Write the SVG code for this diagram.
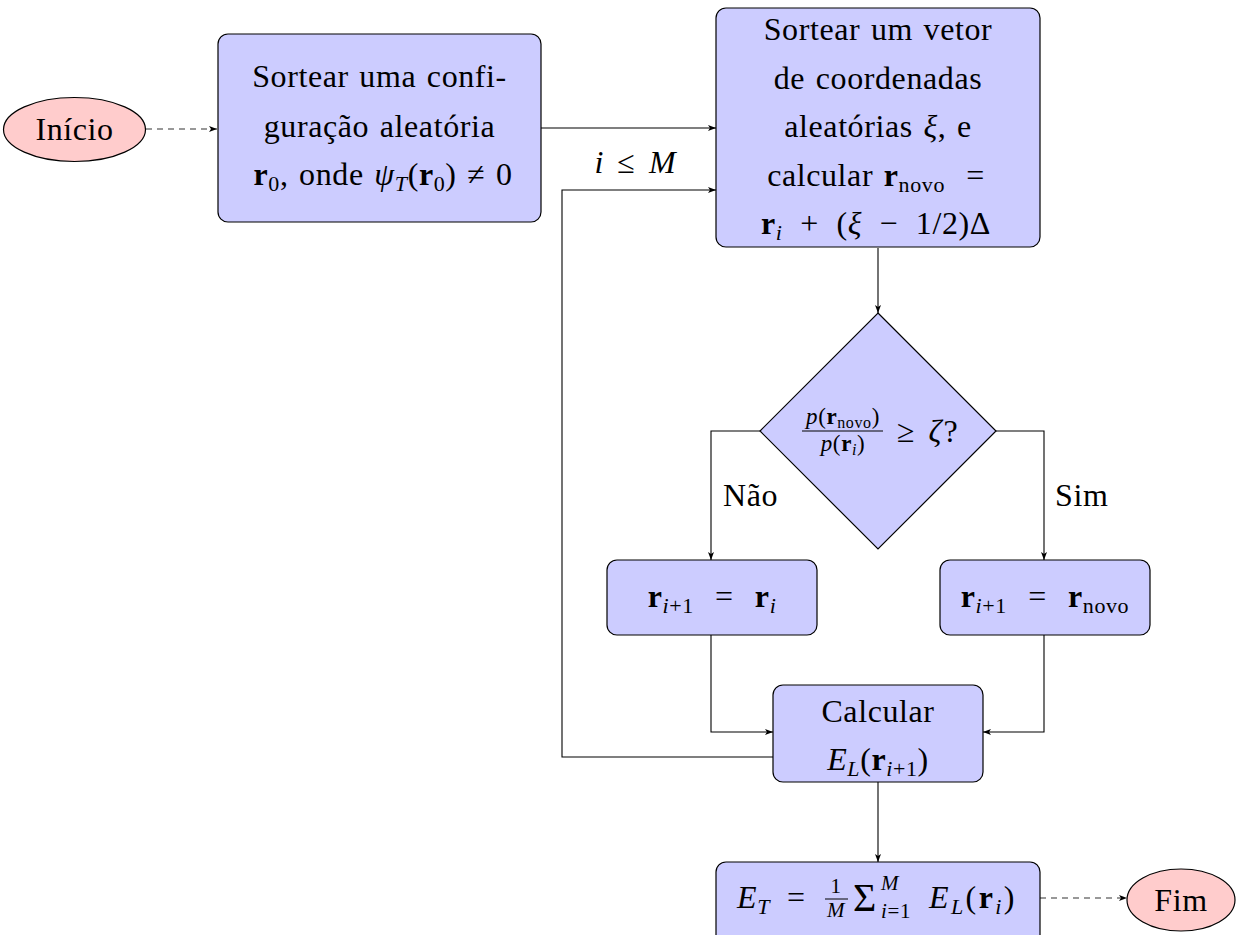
<svg xmlns="http://www.w3.org/2000/svg" width="1236" height="935" viewBox="0 0 1236 935">
  <style>
    .t { font-family: "Liberation Serif", "Times New Roman", serif; font-size: 32px; fill: #000; letter-spacing: 0.6px; word-spacing: 2px; }
    .c { text-anchor: middle; }
    .i { font-style: italic; }
    .b { font-weight: bold; }
    .s { font-size: 22px; }
    .f { font-size: 23px; }
    .fs { font-size: 16px; }
    .sm { font-size: 21px; }
    .box { fill: #ccccff; stroke: #000; stroke-width: 1.2; }
    .term { fill: #ffcccc; stroke: #000; stroke-width: 1.2; }
    .line { fill: none; stroke: #000; stroke-width: 1.1; marker-end: url(#ah); }
    .dash { stroke-dasharray: 6 5; stroke: #333; }
  </style>
  <defs>
    <marker id="ah" viewBox="0 0 8 6" refX="8" refY="3" markerWidth="8" markerHeight="6" orient="auto" markerUnits="userSpaceOnUse">
      <path d="M0,0 L8,3 L0,6 L2,3 z" fill="#000"/>
    </marker>
  </defs>

  <!-- connectors -->
  <g id="connectors">
    <path class="line dash" d="M146,129 H217"/>
    <path class="line" d="M541,128 H716"/>
    <path class="line" d="M773,757 H562 V190 H716"/>
    <path class="line" d="M878,248 V313"/>
    <path class="line" d="M760,431 H711 V560"/>
    <path class="line" d="M996,431 H1044 V560"/>
    <path class="line" d="M711,635 V732 H773"/>
    <path class="line" d="M1044,635 V732 H983"/>
    <path class="line" d="M878,782 V862"/>
    <path class="line dash" d="M1040,898 H1127"/>
    <text class="t c" x="636" y="173" style="letter-spacing:2px"><tspan class="i">i</tspan>&#160;≤&#160;<tspan class="i">M</tspan></text>
    <text class="t" x="723" y="506">Não</text>
    <text class="t" x="1055" y="506">Sim</text>
  </g>

  <!-- start -->
  <g id="inicio">
    <ellipse class="term" cx="74.5" cy="129.5" rx="71" ry="32"/>
    <text class="t c" x="74.5" y="140">Início</text>
  </g>

  <!-- initial configuration -->
  <g id="config">
    <rect class="box" x="218" y="34" width="323" height="188" rx="10"/>
    <text class="t c" x="379.5" y="87">Sortear uma confi-</text>
    <text class="t c" x="379.5" y="137">guração aleatória</text>
    <text class="t c" x="383" y="185"><tspan class="b">r</tspan><tspan class="s" dy="6">0</tspan><tspan dy="-6">, onde </tspan><tspan class="i">ψ</tspan><tspan class="s i" dy="6">T</tspan><tspan dy="-6">(</tspan><tspan class="b">r</tspan><tspan class="s" dy="6">0</tspan><tspan dy="-6">)&#160;≠&#160;0</tspan></text>
  </g>

  <!-- trial move -->
  <g id="sortear">
    <rect class="box" x="716" y="8" width="324" height="239" rx="10"/>
    <text class="t c" x="878" y="40">Sortear um vetor</text>
    <text class="t c" x="878" y="89">de coordenadas</text>
    <text class="t c" x="878" y="137">aleatórias <tspan class="i">ξ</tspan>, e</text>
    <text class="t c" x="876" y="186">calcular <tspan class="b">r</tspan><tspan class="s" dy="6">novo</tspan><tspan dy="-6">&#160;&#160;=</tspan></text>
    <text class="t c" x="876" y="234"><tspan class="b">r</tspan><tspan class="s i" dy="6">i</tspan><tspan dy="-6">&#160;&#8201;+&#160;&#8201;(</tspan><tspan class="i">ξ</tspan>&#160;&#8201;−&#160;&#8201;1/2)Δ</text>
  </g>

  <!-- acceptance test -->
  <g id="teste">
    <polygon class="box" points="878,313 996,431 878,549 760,431"/>
    <text class="t f c" x="843" y="424"><tspan class="i">p</tspan>(<tspan class="b">r</tspan><tspan class="fs" dy="4">novo</tspan><tspan dy="-4">)</tspan></text>
    <line x1="802" y1="431" x2="883" y2="431" stroke="#000" stroke-width="1"/>
    <text class="t f c" x="843" y="451"><tspan class="i">p</tspan>(<tspan class="b">r</tspan><tspan class="fs i" dy="4">i</tspan><tspan dy="-4">)</tspan></text>
    <text class="t" x="897" y="442" style="letter-spacing:2px">≥&#160;<tspan class="i">ζ</tspan>?</text>
  </g>

  <!-- rejected -->
  <g id="rejeita">
    <rect class="box" x="607" y="560" width="210" height="75" rx="10"/>
    <text class="t c" x="712" y="607"><tspan class="b">r</tspan><tspan class="s i" dy="6">i</tspan><tspan class="s">+1</tspan><tspan dy="-6">&#160;&#160;=&#160;&#160;</tspan><tspan class="b">r</tspan><tspan class="s i" dy="6">i</tspan></text>
  </g>

  <!-- accepted -->
  <g id="aceita">
    <rect class="box" x="940" y="560" width="210" height="75" rx="10"/>
    <text class="t c" x="1045" y="607"><tspan class="b">r</tspan><tspan class="s i" dy="6">i</tspan><tspan class="s">+1</tspan><tspan dy="-6">&#160;&#160;=&#160;&#160;</tspan><tspan class="b">r</tspan><tspan class="s" dy="6">novo</tspan></text>
  </g>

  <!-- local energy -->
  <g id="calcular">
    <rect class="box" x="773" y="685" width="210" height="97" rx="10"/>
    <text class="t c" x="878" y="722">Calcular</text>
    <text class="t c" x="878" y="770"><tspan class="i">E</tspan><tspan class="s i" dy="6">L</tspan><tspan dy="-6">(</tspan><tspan class="b">r</tspan><tspan class="s i" dy="6">i</tspan><tspan class="s">+1</tspan><tspan dy="-6">)</tspan></text>
  </g>

  <!-- average energy -->
  <g id="media">
    <rect class="box" x="716" y="862" width="324" height="84" rx="10"/>
    <text class="t" x="737" y="908"><tspan class="i">E</tspan><tspan class="s i" dy="6">T</tspan></text>
    <text class="t" x="787" y="908">=</text>
    <text class="t sm c" x="836" y="893">1</text>
    <line x1="825" y1="899" x2="848" y2="899" stroke="#000" stroke-width="1"/>
    <text class="t sm c i" x="836" y="917">M</text>
    <text class="t" x="853" y="911" style="font-size:40px">Σ</text>
    <text class="t sm i" x="881" y="890">M</text>
    <text class="t sm" x="881" y="918"><tspan class="i">i</tspan>=1</text>
    <text class="t" x="929" y="908" style="letter-spacing:2.4px"><tspan class="i">E</tspan><tspan class="s i" dy="6">L</tspan><tspan dy="-6">(</tspan><tspan class="b">r</tspan><tspan class="s i" dy="6">i</tspan><tspan dy="-6">)</tspan></text>
  </g>

  <!-- end -->
  <g id="fim">
    <ellipse class="term" cx="1181" cy="900" rx="54" ry="31"/>
    <text class="t c" x="1181" y="911">Fim</text>
  </g>
</svg>
